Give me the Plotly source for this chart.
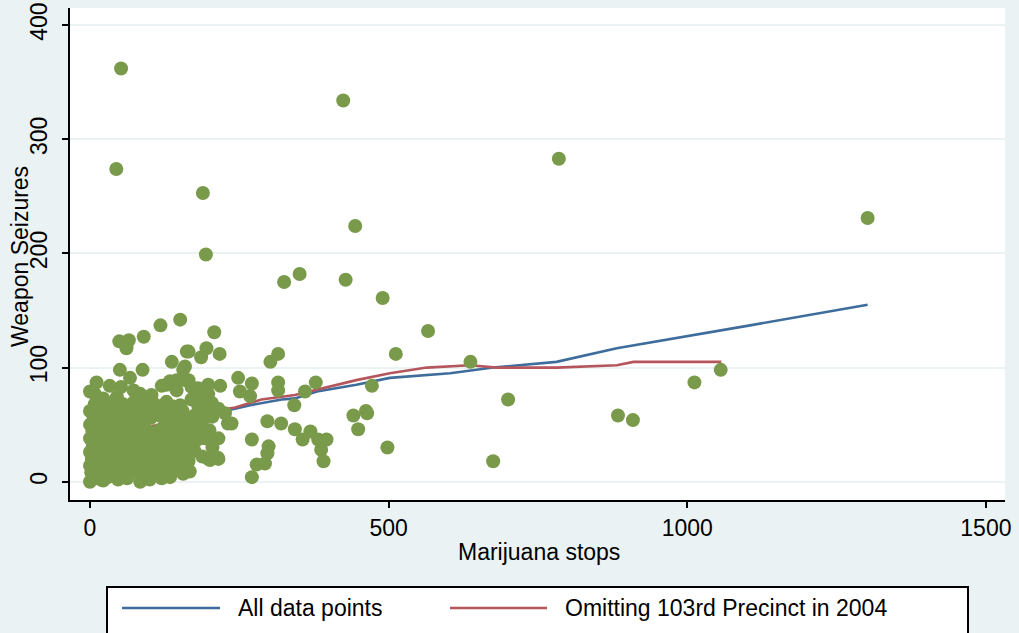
import plotly.graph_objects as go

# Scatter data: (Marijuana stops, Weapon seizures)
points = [
    # sparse / outlying points
    (52,362),(44,274),(189,253),(194,199),(424,334),(444,224),(785,283),(1302,231),
    (325,175),(351,182),(428,177),(490,161),(566,132),(512,112),(637,105),(700,72),(675,18),
    (884,58),(909,54),(1012,87),(1056,98),(498,30),(472,84),(462,62),(464,60),(441,58),(449,46),
    (378,87),(360,79),(342,67),(343,46),(356,37),(369,44),(382,37),(396,37),(387,28),(391,18),
    (297,53),(320,51),(271,37),(299,31),(297,25),(293,16),(279,15),(271,4),(167,9),
    (208,131),(165,114),(195,117),(186,109),(217,112),(315,112),(302,105),(159,101),(248,91),
    (271,86),(315,87),(315,80),(268,75),(251,79),(218,84),
    (151,142),(118,137),(90,127),(49,123),(65,124),(61,117),(162,114),(137,105),(50,98),(88,98),
    (67,91),(11,87),(33,84),(0,79),(128,85),(145,89),(156,98),(237,51),(231,51),(226,60),
    (52,83),(73,80),(84,77),(103,76),(120,84),(134,88),(145,80),(159,89),(165,89),(170,83),
    (181,82),(198,85),(198,77),(176,74),(193,73),
    (8,77),(22,73),(45,74),(78,74),(100,72),(128,70),(151,67),(181,67),(204,69),(215,64),
    (170,72),(162,56),(193,38),(215,38),(198,20),(215,20),(188,22),(201,19),(214,21),
    (0,0),(22,1),(84,0),(134,4),(156,7),
    # dense cluster
    (5,3),(18,2),(30,4),(47,2),(62,3),(100,2),(120,3),
    (2,8),(12,7),(25,9),(40,8),(55,7),(70,9),(90,8),(110,7),(130,9),(145,10),
    (0,14),(8,13),(20,15),(35,14),(50,13),(66,15),(80,14),(96,13),(115,15),(135,14),(150,13),
    (3,20),(15,21),(28,19),(44,20),(58,21),(75,19),(92,20),(105,21),(125,19),(145,22),(160,24),
    (0,26),(10,27),(22,25),(38,26),(52,27),(68,25),(85,26),(100,27),(118,25),(138,27),(160,30),(175,27),
    (5,32),(17,33),(30,31),(45,32),(60,33),(78,31),(95,32),(112,33),(130,31),(150,33),(170,35),(205,30),
    (0,38),(12,39),(25,37),(40,38),(55,39),(70,37),(88,38),(105,39),(122,37),(142,39),(165,41),(180,37),
    (4,44),(18,45),(32,43),(48,44),(62,45),(80,43),(98,44),(115,45),(135,43),(155,45),(180,47),(200,45),
    (0,50),(26,49),(40,50),(56,51),(72,49),(90,50),(128,49),(148,51),(170,52),(190,55),
    (6,56),(20,57),(35,55),(50,56),(66,57),(84,55),(102,56),(120,57),(140,55),(185,58),(205,57),
    (0,62),(14,63),(30,61),(45,62),(60,63),(78,61),(95,62),(112,63),(132,61),(155,62),
    (8,68),(24,69),(40,67),(55,68),(72,69),(90,67),(108,68),(140,66),
    (165,18),(172,28),(165,48),(150,26),(158,36),(175,58),(118,42),(75,52),(33,22),(88,16),
    (60,10),(108,12),(140,18),(125,28),(58,44),(18,52),(95,74),(118,66),(150,58),(196,62),
]
marijuana_stops = [p[0] for p in points]
weapon_seizures = [p[1] for p in points]

# Smoothed fit lines
all_x = [0, 50, 114, 160, 243, 268, 321, 343, 380, 446, 502, 603, 675, 781, 882, 1055, 1105, 1302]
all_y = [30, 42, 49, 56, 64, 67, 72, 73, 79, 85, 91, 95, 100, 105, 117, 133, 137, 155]
omit_x = [0, 50, 114, 159, 243, 268, 287, 343, 396, 446, 502, 564, 636, 681, 781, 882, 910, 1057]
omit_y = [30, 43, 50, 58, 65, 69, 72, 76, 83, 89, 95, 100, 102, 100, 100, 102, 105, 105]

x_ticks = [0, 500, 1000, 1500]
y_ticks = [0, 100, 200, 300, 400]
legend_labels = ["All data points", "Omitting 103rd Precinct in 2004"]

BG = "#EAF2F3"
GREEN = "#7A9A4B"
BLUE = "#3E6D9C"
RED = "#B4565C"
FONT = "Liberation Sans, Arial, sans-serif"
FS = 23

fig = go.Figure()
fig.add_trace(go.Scatter(x=all_x, y=all_y, mode="lines", line=dict(color=BLUE, width=2.6),
                         name=legend_labels[0], showlegend=False))
fig.add_trace(go.Scatter(x=omit_x, y=omit_y, mode="lines", line=dict(color=RED, width=2.6),
                         name=legend_labels[1], showlegend=False))
fig.add_trace(go.Scatter(x=marijuana_stops, y=weapon_seizures, mode="markers",
                         marker=dict(color=GREEN, size=14, line=dict(width=0)),
                         showlegend=False))

H = 492.0
W = 935.0
def px_x(px):
    return (px - 70) / W
def px_y(py):
    return (500 - py) / H

shapes = [
    dict(type="rect", xref="paper", yref="paper", x0=px_x(107), x1=px_x(968),
         y0=px_y(650), y1=px_y(587), line=dict(color="black", width=2), fillcolor="white", layer="above"),
    dict(type="line", xref="paper", yref="paper", x0=px_x(122), x1=px_x(220),
         y0=px_y(608), y1=px_y(608), line=dict(color=BLUE, width=2.6)),
    dict(type="line", xref="paper", yref="paper", x0=px_x(450), x1=px_x(547),
         y0=px_y(608), y1=px_y(608), line=dict(color=RED, width=2.6)),
]
annotations = [
    dict(text="Weapon Seizures", xref="paper", yref="paper", x=px_x(20), y=px_y(257),
         textangle=-90, showarrow=False, xanchor="center", yanchor="middle",
         font=dict(size=FS, color="black", family=FONT)),
    dict(text="Marijuana stops", xref="paper", yref="paper", x=px_x(539), y=px_y(552),
         showarrow=False, xanchor="center", yanchor="middle",
         font=dict(size=FS, color="black", family=FONT)),
    dict(text=legend_labels[0], xref="paper", yref="paper", x=px_x(236), y=px_y(608),
         showarrow=False, xanchor="left", yanchor="middle",
         font=dict(size=FS, color="black", family=FONT)),
    dict(text=legend_labels[1], xref="paper", yref="paper", x=px_x(563), y=px_y(608),
         showarrow=False, xanchor="left", yanchor="middle",
         font=dict(size=FS, color="black", family=FONT)),
]

fig.update_layout(
    width=1019, height=633,
    margin=dict(l=70, r=14, t=8, b=133, autoexpand=False),
    paper_bgcolor=BG, plot_bgcolor="white",
    font=dict(family=FONT, size=FS, color="black"),
    shapes=shapes, annotations=annotations,
    showlegend=False,
)
fig.update_xaxes(range=[-33.5, 1532], tickvals=x_ticks, ticks="outside", ticklen=6, tickwidth=2,
                 tickcolor="black", showline=True, linecolor="black", linewidth=2,
                 showgrid=False, zeroline=False, tickfont=dict(size=FS), automargin=False)
fig.update_yaxes(range=[-16, 415], tickvals=y_ticks, tickangle=-90, ticks="outside", ticklen=6,
                 tickwidth=2, tickcolor="black", showline=True, linecolor="black", linewidth=2,
                 showgrid=True, gridcolor=BG, gridwidth=2, zeroline=False, tickfont=dict(size=FS),
                 ticklabelstandoff=6, automargin=False)

fig.write_html("out.html", config={"displayModeBar": False},
               post_script="document.body.style.margin='0';document.body.style.overflow='hidden';")
